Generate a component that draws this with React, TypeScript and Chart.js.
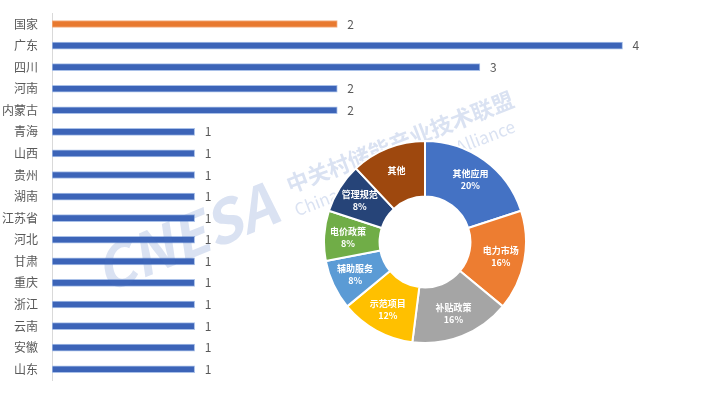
import React, { useEffect, useRef } from "react";
import { Chart, registerables } from "chart.js";

Chart.register(...registerables);

const categories = ["国家", "广东", "四川", "河南", "内蒙古", "青海", "山西", "贵州", "湖南", "江苏省", "河北", "甘肃", "重庆", "浙江", "云南", "安徽", "山东"];
const counts = [2, 4, 3, 2, 2, 1, 1, 1, 1, 1, 1, 1, 1, 1, 1, 1, 1];
const barColors = ["#E8792F", ...Array(16).fill("#3C64B8")];
const barBorders = ["#F4B183", ...Array(16).fill("#A9C0E8")];

const pieLabels = ["其他应用", "电力市场", "补贴政策", "示范项目", "辅助服务", "电价政策", "管理规范", "其他"];
const pieValues = [20, 16, 16, 12, 8, 8, 8, 12];
const pieShown = ["20%", "16%", "16%", "12%", "8%", "8%", "8%", ""];
const pieColors = ["#4472C4", "#ED7D31", "#A5A5A5", "#FFC000", "#5B9BD5", "#70AD47", "#264478", "#9E480E"];

const FONT = "'Noto Sans CJK SC', 'Noto Sans', sans-serif";

export default function App() {
  const barRef = useRef<HTMLCanvasElement>(null);
  const pieRef = useRef<HTMLCanvasElement>(null);

  useEffect(() => {
    document.body.style.margin = "0";
    const valuePlugin = {
      id: "vals",
      afterDatasetsDraw(chart: any) {
        const ctx = chart.ctx;
        const meta = chart.getDatasetMeta(0);
        ctx.save();
        ctx.fillStyle = "#595959";
        ctx.font = `12px ${FONT}`;
        ctx.textBaseline = "middle";
        ctx.textAlign = "left";
        meta.data.forEach((el: any, i: number) => {
          ctx.fillText(String(counts[i]), el.x + 10, el.y);
        });
        ctx.restore();
      },
      afterDraw(chart: any) {
        const ctx = chart.ctx;
        ctx.save();
        ctx.translate(185, 237);
        ctx.rotate(-0.39);
        ctx.fillStyle = "rgba(70,110,190,0.2)";
        ctx.font = `bold italic 58px ${FONT}`;
        ctx.textAlign = "center";
        ctx.textBaseline = "middle";
        ctx.fillText("CNESA", 0, 0);
        ctx.restore();
        ctx.save();
        ctx.translate(400, 142);
        ctx.rotate(-0.37);
        ctx.fillStyle = "rgba(70,110,190,0.2)";
        ctx.font = `bold 22px ${FONT}`;
        ctx.textAlign = "center";
        ctx.textBaseline = "middle";
        ctx.fillText("中关村储能产业技术联盟", 0, 0);
        ctx.font = `17px ${FONT}`;
        ctx.fillText("China Energy Storage Alliance", -5, 26);
        ctx.restore();
      },
    };

    const bar = new Chart(barRef.current!, {
      type: "bar",
      data: {
        labels: categories,
        datasets: [
          {
            data: counts,
            backgroundColor: barColors,
            borderColor: barBorders,
            borderWidth: 1,
            barThickness: 7,
            borderSkipped: false,
          },
        ],
      },
      options: {
        indexAxis: "y",
        animation: false,
        responsive: false,
        maintainAspectRatio: false,
        layout: { padding: { top: 13, bottom: 17, left: 0, right: 0 } },
        plugins: { legend: { display: false }, tooltip: { enabled: false } },
        scales: {
          x: { min: 0, max: 4.62, display: false },
          y: {
            afterFit: (s: any) => {
              s.width = 52;
            },
            grid: { display: false },
            border: { display: true, color: "#D9D9D9" },
            ticks: { color: "#595959", font: { size: 12, family: FONT }, padding: 6 },
          },
        },
      },
      plugins: [valuePlugin],
    } as any);

    const labelPlugin = {
      id: "pielabels",
      afterDatasetsDraw(chart: any) {
        const ctx = chart.ctx;
        const meta = chart.getDatasetMeta(0);
        ctx.save();
        ctx.fillStyle = "#FFFFFF";
        ctx.font = `bold 9px ${FONT}`;
        ctx.textAlign = "center";
        ctx.textBaseline = "middle";
        meta.data.forEach((arc: any, i: number) => {
          const mid = (arc.startAngle + arc.endAngle) / 2;
          const r = (arc.innerRadius + arc.outerRadius) / 2 + 4;
          const x = arc.x + Math.cos(mid) * r;
          const y = arc.y + Math.sin(mid) * r;
          if (pieShown[i]) {
            ctx.fillText(pieLabels[i], x, y - 6);
            ctx.fillText(pieShown[i], x, y + 6);
          } else {
            ctx.fillText(pieLabels[i], x, y);
          }
        });
        ctx.restore();
      },
    };

    const pie = new Chart(pieRef.current!, {
      type: "doughnut",
      data: {
        labels: pieLabels,
        datasets: [
          {
            data: pieValues,
            backgroundColor: pieColors,
            borderColor: "#FFFFFF",
            borderWidth: 2,
          },
        ],
      },
      options: {
        animation: false,
        responsive: false,
        maintainAspectRatio: false,
        cutout: "45%",
        layout: { padding: 0 },
        plugins: { legend: { display: false }, tooltip: { enabled: false } },
      },
      plugins: [labelPlugin],
    } as any);

    return () => {
      bar.destroy();
      pie.destroy();
    };
  }, []);

  return (
    <div style={{ position: "relative", width: 711, height: 397, background: "#FFFFFF", overflow: "hidden" }}>
      <canvas ref={barRef} width={711} height={397} style={{ position: "absolute", left: 0, top: 0 }} />
      <canvas ref={pieRef} width={204} height={206} style={{ position: "absolute", left: 323, top: 139 }} />
    </div>
  );
}
